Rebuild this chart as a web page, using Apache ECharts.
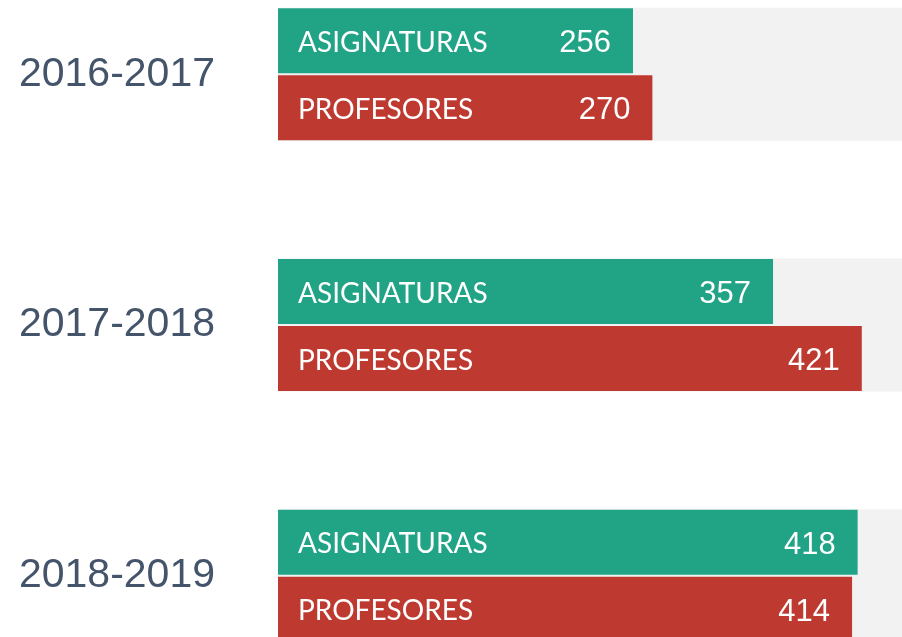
<!DOCTYPE html>
<html>
<head>
<meta charset="utf-8">
<script src="https://cdn.jsdelivr.net/npm/echarts@6/dist/echarts.min.js"></script>
<style>
  html, body { margin: 0; padding: 0; background: #fff; overflow: hidden; }
  body { width: 902px; height: 637px; position: relative; }
  /* the bands are 250px apart, so the chart is taller than the window and shifted up */
  #main { position: absolute; left: 0; top: -51px; width: 902px; height: 752px; }
</style>
</head>
<body>
<div id="main"></div>
<script>
var years = ['2016-2017', '2017-2018', '2018-2019'];
var asignaturas = [256, 357, 418];
var profesores = [270, 421, 414];
var maxValue = 450;
var backgroundValues = [maxValue, maxValue, maxValue];

var myChart = echarts.init(document.getElementById('main'));

var nameLabel = {
    show: true,
    position: 'insideLeft',
    distance: 20,
    offset: [0, 2],
    color: '#fff',
    fontFamily: 'Lato',
    fontSize: 28,
    formatter: '{a}'
};
var valueLabel = {
    show: true,
    position: 'insideRight',
    distance: 22,
    offset: [0, 3],
    color: '#fff',
    fontFamily: 'Liberation Sans',
    fontSize: 31
};

var hiddenCategory = {
    type: 'category',
    inverse: true,
    data: years,
    show: false
};

var option = {
    animation: false,
    grid: { left: 278, right: 0, top: 0, bottom: 0 },
    xAxis: { type: 'value', min: 0, max: maxValue, show: false },
    yAxis: [
        {
            type: 'category',
            inverse: true,
            data: years,
            axisLine: { show: false },
            axisTick: { show: false },
            axisLabel: {
                margin: 63,
                color: '#44546A',
                fontFamily: 'Liberation Sans',
                fontSize: 41,
                padding: [8, 0, 0, 0]
            }
        },
        hiddenCategory,
        hiddenCategory
    ],
    series: [
        {
            name: 'fondo',
            type: 'bar',
            yAxisIndex: 1,
            data: backgroundValues,
            barWidth: 133,
            itemStyle: { color: '#F2F2F2' },
            silent: true,
            z: 1
        },
        {
            name: 'ASIGNATURAS',
            type: 'bar',
            yAxisIndex: 0,
            data: asignaturas,
            barWidth: 65,
            barGap: '3%',
            itemStyle: { color: '#21A386' },
            label: valueLabel,
            z: 2
        },
        {
            name: 'PROFESORES',
            type: 'bar',
            yAxisIndex: 0,
            data: profesores,
            barWidth: 65,
            barGap: '3%',
            itemStyle: { color: '#BE3A30' },
            label: valueLabel,
            z: 2
        },
        {
            name: 'ASIGNATURAS',
            type: 'bar',
            yAxisIndex: 2,
            data: asignaturas,
            barWidth: 65,
            barGap: '3%',
            itemStyle: { color: 'rgba(0,0,0,0)' },
            label: nameLabel,
            silent: true,
            z: 3
        },
        {
            name: 'PROFESORES',
            type: 'bar',
            yAxisIndex: 2,
            data: profesores,
            barWidth: 65,
            barGap: '3%',
            itemStyle: { color: 'rgba(0,0,0,0)' },
            label: nameLabel,
            silent: true,
            z: 3
        }
    ]
};

myChart.setOption(option);
</script>
</body>
</html>
